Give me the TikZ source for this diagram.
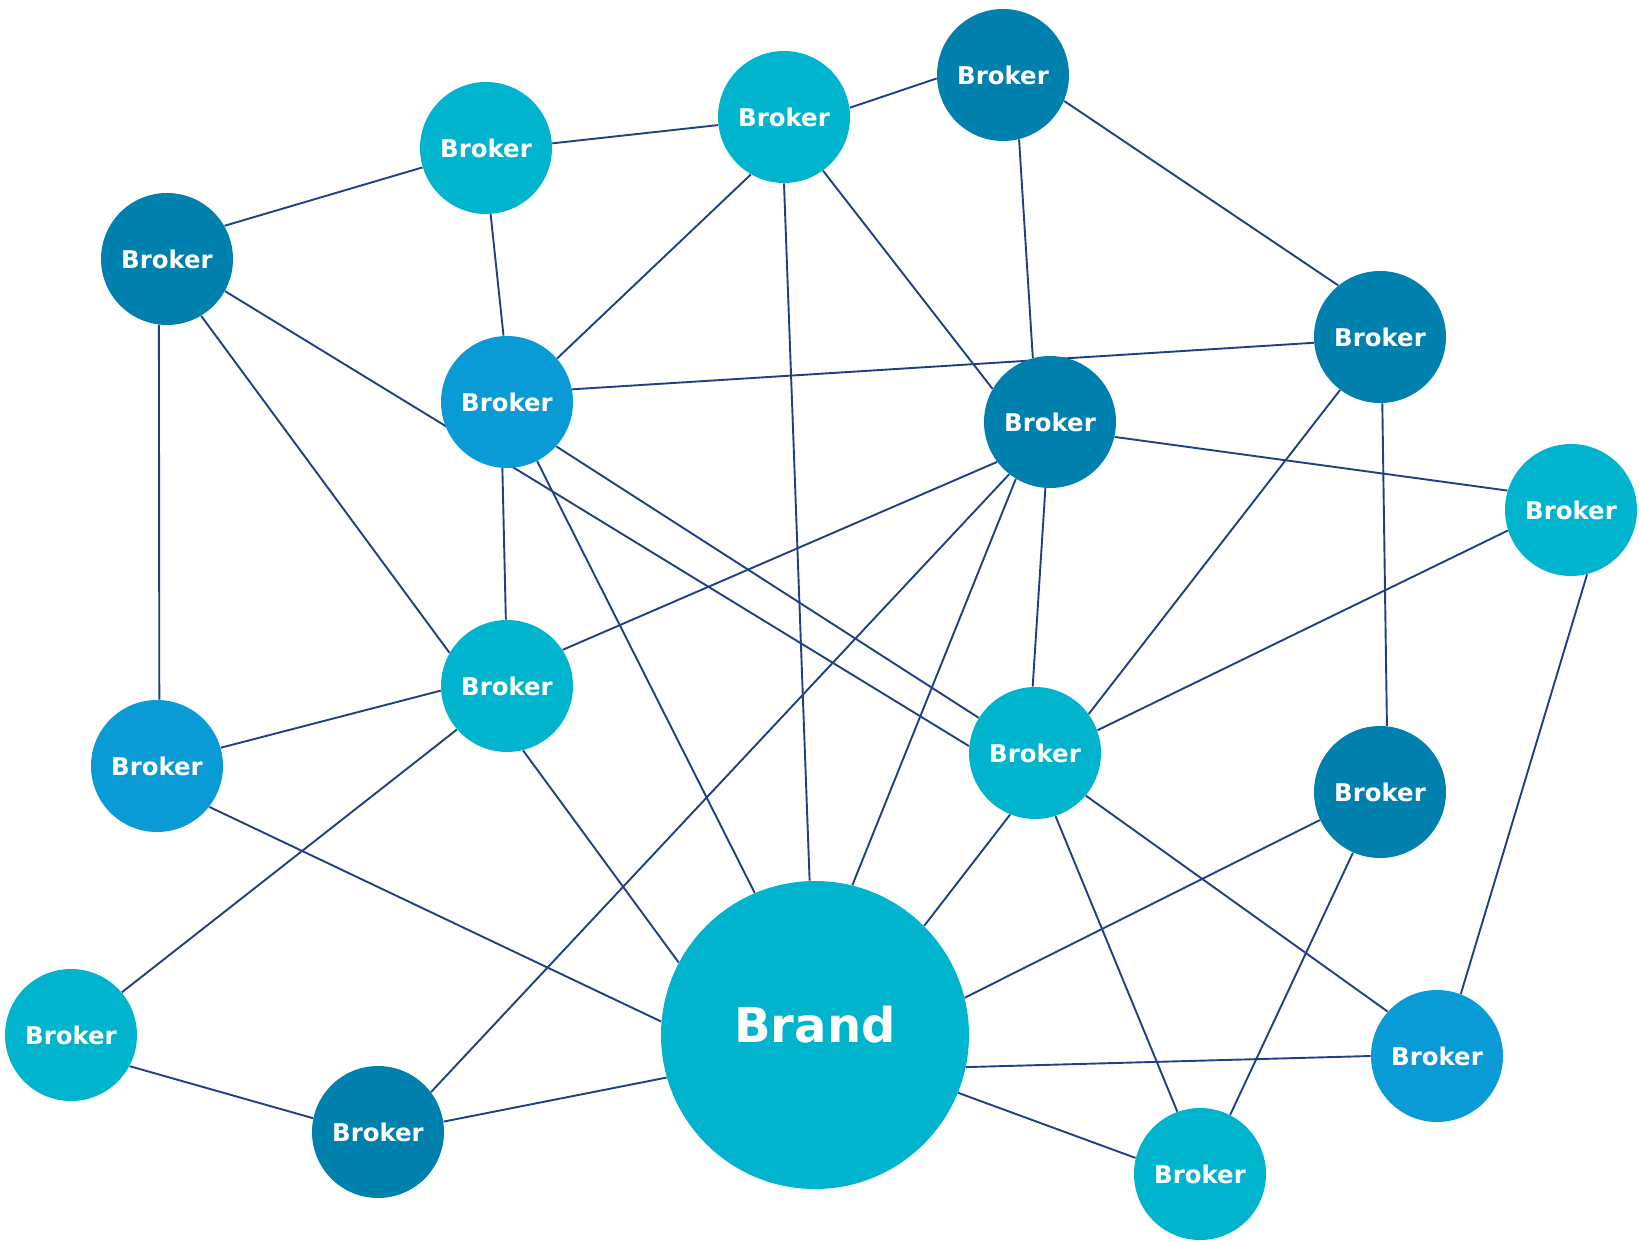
\documentclass[tikz,border=0pt]{standalone}
\usepackage{fontspec}
\setmainfont{DejaVu Sans}
\pgfdeclarelayer{background}
\pgfsetlayers{background,main}
\definecolor{cyanc}{HTML}{00B4CD}
\definecolor{tealc}{HTML}{0080AC}
\definecolor{bluec}{HTML}{0A9AD6}
\definecolor{edgec}{HTML}{213F83}
\begin{document}
\begin{tikzpicture}[x=0.5pt,y=-0.5pt,
  brk/.style={circle,minimum size=66pt,inner sep=0pt,text=white,font=\bfseries\fontsize{12.2}{14}\selectfont},
  cy/.style={brk,fill=cyanc},
  tl/.style={brk,fill=tealc},
  bl/.style={brk,fill=bluec},
  brand/.style={circle,minimum size=154pt,inner sep=0pt,fill=cyanc,text=white,font=\bfseries\fontsize{24}{28}\selectfont},
  lnk/.style={draw=edgec,line width=0.95pt}]
\useasboundingbox (0,0) rectangle (1639,1241);
\node[cy] (A) at (486,148) {Broker};
\node[cy] (B) at (784,117) {Broker};
\node[tl] (C) at (1003,75) {Broker};
\node[tl] (D) at (167,259) {Broker};
\node[bl] (E) at (507,402) {Broker};
\node[tl] (F) at (1050,422) {Broker};
\node[tl] (G) at (1380,337) {Broker};
\node[cy] (H) at (1571,510) {Broker};
\node[cy] (I) at (507,686) {Broker};
\node[bl] (J) at (157,766) {Broker};
\node[cy] (K) at (1035,753) {Broker};
\node[tl] (L) at (1380,792) {Broker};
\node[cy] (M) at (71,1035) {Broker};
\node[tl] (N) at (378,1132) {Broker};
\node[brand] (Br) at (815,1035) {\raisebox{11pt}{Brand}};
\node[cy] (O) at (1200,1174) {Broker};
\node[bl] (P) at (1437,1056) {Broker};
\begin{pgfonlayer}{background}
\foreach \a/\aa/\b/\bb in {
  D/30/A/-163, A/4/B/-173, B/8/C/-177, A/-86/E/93, B/-120/E/41,
  B/-90/Br/92, B/-54/F/150, C/-76/F/105, C/-23/G/129, D/-97/J/88,
  D/-59/I/150, D/-29/K/174, E/-94/I/91, E/-63/Br/113, E/11/G/-175,
  E/-42/K/148, F/-13/H/163, F/-143/I/33, F/-128/N/37, F/-121/Br/76,
  F/-94/K/92, G/-127/K/36, G/-88/L/84, H/-162/K/20, H/-76/P/69,
  I/-176/J/16, I/-139/M/40, I/-76/Br/152, J/-38/Br/175, M/-28/N/168,
  N/9/Br/-164, K/-112/Br/45, K/-72/O/110, K/-40/P/138, L/-155/Br/14,
  L/-114/O/63, Br/-12/P/180, Br/-22/O/166}
  \draw[lnk] (\a.\aa) -- (\b.\bb);
\end{pgfonlayer}
\end{tikzpicture}
\end{document}
